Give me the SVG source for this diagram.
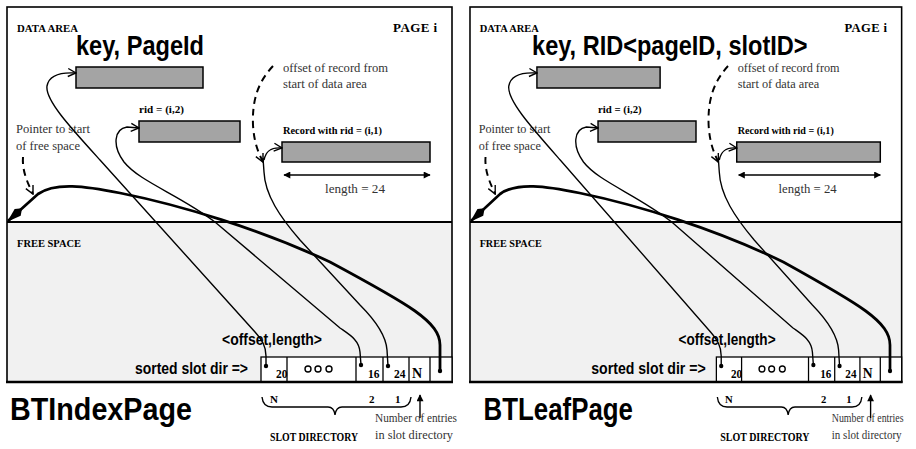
<svg xmlns="http://www.w3.org/2000/svg" width="916" height="449" viewBox="0 0 916 449">
<style>
.pg{fill:none;stroke:#000;stroke-width:1.6}
.fs{fill:#f1f1f1}
.rec{fill:#a4a4a4;stroke:#000;stroke-width:1.5}
.cell{fill:#fff;stroke:#000;stroke-width:1.3}
.sep{stroke:#000;stroke-width:1.3}
.conn{fill:none;stroke:#000;stroke-width:1.4}
.thick{fill:none;stroke:#000;stroke-width:2.8}
.dash{fill:none;stroke:#000;stroke-width:2;stroke-dasharray:7 5}
.sb{font-family:"Liberation Serif","Times New Roman",serif;font-weight:bold;fill:#000}
.sr{font-family:"Liberation Serif","Times New Roman",serif;fill:#333}
.hb{font-family:"Liberation Sans",Arial,sans-serif;font-weight:bold;fill:#000}
</style>
<defs>
<marker id="open" viewBox="0 0 10 10" refX="9" refY="5" markerWidth="10" markerHeight="10" markerUnits="userSpaceOnUse" orient="auto"><path d="M1,1 L9,5 L1,9" fill="none" stroke="#000" stroke-width="1.4"/></marker>
<marker id="tri" viewBox="0 0 10 10" refX="9" refY="5" markerWidth="9" markerHeight="7" markerUnits="userSpaceOnUse" orient="auto-start-reverse"><path d="M0,0 L10,5 L0,10 z" fill="#000"/></marker>
<marker id="big" viewBox="0 0 20 10" refX="19" refY="5" markerWidth="20" markerHeight="10" markerUnits="userSpaceOnUse" orient="auto"><path d="M0,5 L6,0.5 L20,5 L6,9.5 z" fill="#000"/></marker>
</defs>
<rect width="916" height="449" fill="#fff"/>

<!-- LEFT PANEL -->
<g id="left-panel">
  <g id="L-page">
    <rect class="fs" x="7" y="222" width="445" height="160"/>
    <rect class="pg" x="7" y="7" width="445" height="375"/>
    <line x1="7" y1="222" x2="452" y2="222" stroke="#000" stroke-width="2.2"/>
    <text class="sb" x="17" y="32" font-size="11" textLength="61" lengthAdjust="spacingAndGlyphs">DATA AREA</text>
    <text class="sb" x="393" y="32" font-size="13" textLength="44">PAGE i</text>
    <text class="sb" x="17" y="247" font-size="11" textLength="64" lengthAdjust="spacingAndGlyphs">FREE SPACE</text>
    <text class="hb" x="76" y="55" font-size="28" textLength="128" lengthAdjust="spacingAndGlyphs">key, PageId</text>
    <text class="sr" x="283" y="72" font-size="13" textLength="105" lengthAdjust="spacingAndGlyphs">offset of record from</text>
    <text class="sr" x="283" y="88" font-size="13" textLength="84" lengthAdjust="spacingAndGlyphs">start of data area</text>
    <text class="sr" x="16" y="133" font-size="13" textLength="74" lengthAdjust="spacingAndGlyphs">Pointer to start</text>
    <text class="sr" x="16" y="150" font-size="13" textLength="64" lengthAdjust="spacingAndGlyphs">of free space</text>
    <text class="sr" x="325" y="193" font-size="13" textLength="60" lengthAdjust="spacingAndGlyphs">length = 24</text>
    <text class="hb" x="222" y="345" font-size="16" textLength="100" lengthAdjust="spacingAndGlyphs">&lt;offset,length&gt;</text>
    <text class="hb" x="135" y="374" font-size="16" textLength="113" lengthAdjust="spacingAndGlyphs">sorted slot dir =&gt;</text>
    <text class="hb" x="10" y="420" font-size="32" textLength="182" lengthAdjust="spacingAndGlyphs">BTIndexPage</text>
  </g>
  <g id="L-rec-key">
    <rect class="rec" x="76" y="67" width="127" height="21"/>
  </g>
  <g id="L-rec-i2">
    <text class="sb" x="139" y="113" font-size="11" textLength="45" lengthAdjust="spacingAndGlyphs">rid = (i,2)</text>
    <rect class="rec" x="139" y="121" width="101" height="21"/>
  </g>
  <g id="L-rec-i1">
    <text class="sb" x="283" y="134" font-size="11" textLength="99" lengthAdjust="spacingAndGlyphs">Record with rid = (i,1)</text>
    <rect class="rec" x="282" y="142" width="148" height="20"/>
  </g>
  <g id="L-slotdir">
    <rect class="cell" x="261" y="357" width="191" height="25"/>
    <line class="sep" x1="287" y1="357" x2="287" y2="382"/>
    <line class="sep" x1="356" y1="357" x2="356" y2="382"/>
    <line class="sep" x1="383" y1="357" x2="383" y2="382"/>
    <line class="sep" x1="409" y1="357" x2="409" y2="382"/>
    <line class="sep" x1="430" y1="357" x2="430" y2="382"/>
    <line x1="6" y1="382" x2="453" y2="382" stroke="#000" stroke-width="2.6"/>
    <text class="sb" x="276" y="378" font-size="11.5" font-weight="normal">20</text>
    <circle cx="308" cy="369" r="3" fill="none" stroke="#000" stroke-width="1.4"/>
    <circle cx="318" cy="369" r="3" fill="none" stroke="#000" stroke-width="1.4"/>
    <circle cx="329" cy="369" r="3" fill="none" stroke="#000" stroke-width="1.4"/>
    <text class="sb" x="368" y="378" font-size="11.5" font-weight="normal">16</text>
    <text class="sb" x="394" y="378" font-size="11.5" font-weight="normal">24</text>
    <text class="sb" x="412" y="378" font-size="14" font-weight="normal">N</text>
    <circle cx="266" cy="366" r="2.2"/>
    <circle cx="361" cy="365" r="2.2"/>
    <circle cx="388" cy="366" r="2.2"/>
    <circle cx="440" cy="371" r="2.2"/>
  </g>
  <g id="L-brace">
    <path class="conn" d="M262 397 Q263 407 272 407 L328 407 Q334 407 335 415 Q336 407 342 407 L401 407 Q410 407 411 397" stroke-width="1.3"/>
    <text class="sb" x="270" y="403" font-size="11">N</text>
    <text class="sb" x="369" y="403" font-size="11">2</text>
    <text class="sb" x="395" y="403" font-size="11">1</text>
    <text class="sb" x="270" y="441" font-size="11.5" textLength="88" lengthAdjust="spacingAndGlyphs">SLOT DIRECTORY</text>
    <text class="sr" x="375" y="422" font-size="13" textLength="82" lengthAdjust="spacingAndGlyphs">Number of entries</text>
    <text class="sr" x="375" y="439" font-size="13" textLength="78" lengthAdjust="spacingAndGlyphs">in slot directory</text>
  </g>
  <g id="L-connectors">
    <path class="conn" marker-end="url(#open)" d="M266 366 L266 356 C266 346 262 340 255 332 L100 160 C70 127 45 100 47 86 C49 75 60 72 76 73"/>
    <path class="conn" marker-end="url(#open)" d="M361 365 L360 352 C359 340 350 335 340 328 L215 222 C180 195 140 182 124 162 C112 146 114 129 127 127 L139 128"/>
    <path class="conn" d="M388 366 L387 350 C386 335 375 320 360 305 L300 240 C280 217 265 195 264 172 L263 158"/>
    <path class="conn" marker-end="url(#open)" d="M264 160 C266 150 272 147 282 148"/>
    <path class="thick" marker-end="url(#big)" d="M440 371 L440 345 C440 322 410 305 330 262 C260 229 180 205 120 193 C85 186 55 182 38 194 L8 221"/>
    <path class="dash" marker-end="url(#open)" d="M273 66 C258 82 252 100 253 125 C254 142 258 152 263 162"/>
    <path class="dash" marker-end="url(#open)" d="M23 157 C22 170 27 182 33 194"/>
    <path class="conn" stroke-width="2" marker-start="url(#tri)" marker-end="url(#tri)" d="M284 175 L430 175"/>
    <path class="conn" stroke-width="1.3" marker-end="url(#tri)" d="M420 418 L420 395"/>
  </g>
</g>

<!-- RIGHT PANEL -->
<g id="right-panel" transform="matrix(0.97 0 0 1 463.2 0)">
  <g id="R-page">
    <rect class="fs" x="7" y="222" width="445" height="160"/>
    <rect class="pg" x="7" y="7" width="445" height="375"/>
    <line x1="7" y1="222" x2="452" y2="222" stroke="#000" stroke-width="2.2"/>
    <text class="sb" x="17" y="32" font-size="11" textLength="61" lengthAdjust="spacingAndGlyphs">DATA AREA</text>
    <text class="sb" x="393" y="32" font-size="13" textLength="44">PAGE i</text>
    <text class="sb" x="17" y="247" font-size="11" textLength="64" lengthAdjust="spacingAndGlyphs">FREE SPACE</text>
    <text class="hb" x="71" y="55" font-size="28" textLength="284" lengthAdjust="spacingAndGlyphs">key, RID&lt;pageID, slotID&gt;</text>
    <text class="sr" x="283" y="72" font-size="13" textLength="105" lengthAdjust="spacingAndGlyphs">offset of record from</text>
    <text class="sr" x="283" y="88" font-size="13" textLength="84" lengthAdjust="spacingAndGlyphs">start of data area</text>
    <text class="sr" x="16" y="133" font-size="13" textLength="74" lengthAdjust="spacingAndGlyphs">Pointer to start</text>
    <text class="sr" x="16" y="150" font-size="13" textLength="64" lengthAdjust="spacingAndGlyphs">of free space</text>
    <text class="sr" x="325" y="193" font-size="13" textLength="60" lengthAdjust="spacingAndGlyphs">length = 24</text>
    <text class="hb" x="222" y="345" font-size="16" textLength="100" lengthAdjust="spacingAndGlyphs">&lt;offset,length&gt;</text>
    <text class="hb" x="132" y="374" font-size="16" textLength="118" lengthAdjust="spacingAndGlyphs">sorted slot dir =&gt;</text>
    <text class="hb" x="21" y="420" font-size="32" textLength="154" lengthAdjust="spacingAndGlyphs">BTLeafPage</text>
  </g>
  <g id="R-rec-key">
    <rect class="rec" x="76" y="67" width="127" height="21"/>
  </g>
  <g id="R-rec-i2">
    <text class="sb" x="139" y="113" font-size="11" textLength="45" lengthAdjust="spacingAndGlyphs">rid = (i,2)</text>
    <rect class="rec" x="139" y="121" width="101" height="21"/>
  </g>
  <g id="R-rec-i1">
    <text class="sb" x="283" y="134" font-size="11" textLength="99" lengthAdjust="spacingAndGlyphs">Record with rid = (i,1)</text>
    <rect class="rec" x="282" y="142" width="148" height="20"/>
  </g>
  <g id="R-slotdir">
    <rect class="cell" x="261" y="357" width="191" height="25"/>
    <line class="sep" x1="287" y1="357" x2="287" y2="382"/>
    <line class="sep" x1="356" y1="357" x2="356" y2="382"/>
    <line class="sep" x1="383" y1="357" x2="383" y2="382"/>
    <line class="sep" x1="409" y1="357" x2="409" y2="382"/>
    <line class="sep" x1="430" y1="357" x2="430" y2="382"/>
    <line x1="6" y1="382" x2="453" y2="382" stroke="#000" stroke-width="2.6"/>
    <text class="sb" x="276" y="378" font-size="11.5" font-weight="normal">20</text>
    <circle cx="308" cy="369" r="3" fill="none" stroke="#000" stroke-width="1.4"/>
    <circle cx="318" cy="369" r="3" fill="none" stroke="#000" stroke-width="1.4"/>
    <circle cx="329" cy="369" r="3" fill="none" stroke="#000" stroke-width="1.4"/>
    <text class="sb" x="368" y="378" font-size="11.5" font-weight="normal">16</text>
    <text class="sb" x="394" y="378" font-size="11.5" font-weight="normal">24</text>
    <text class="sb" x="412" y="378" font-size="14" font-weight="normal">N</text>
    <circle cx="266" cy="366" r="2.2"/>
    <circle cx="361" cy="365" r="2.2"/>
    <circle cx="388" cy="366" r="2.2"/>
    <circle cx="440" cy="371" r="2.2"/>
  </g>
  <g id="R-brace">
    <path class="conn" d="M262 397 Q263 407 272 407 L328 407 Q334 407 335 415 Q336 407 342 407 L401 407 Q410 407 411 397" stroke-width="1.3"/>
    <text class="sb" x="270" y="403" font-size="11">N</text>
    <text class="sb" x="369" y="403" font-size="11">2</text>
    <text class="sb" x="395" y="403" font-size="11">1</text>
    <text class="sb" x="265" y="441" font-size="11.5" textLength="92" lengthAdjust="spacingAndGlyphs">SLOT DIRECTORY</text>
    <text class="sr" x="380" y="422" font-size="12" textLength="74" lengthAdjust="spacingAndGlyphs">Number of entries</text>
    <text class="sr" x="380" y="439" font-size="12" textLength="72" lengthAdjust="spacingAndGlyphs">in slot directory</text>
  </g>
  <g id="R-connectors">
    <path class="conn" marker-end="url(#open)" d="M266 366 L266 356 C266 346 262 340 255 332 L100 160 C70 127 45 100 47 86 C49 75 60 72 76 73"/>
    <path class="conn" marker-end="url(#open)" d="M361 365 L360 352 C359 340 350 335 340 328 L215 222 C180 195 140 182 124 162 C112 146 114 129 127 127 L139 128"/>
    <path class="conn" d="M388 366 L387 350 C386 335 375 320 360 305 L300 240 C280 217 265 195 264 172 L263 158"/>
    <path class="conn" marker-end="url(#open)" d="M264 160 C266 150 272 147 282 148"/>
    <path class="thick" marker-end="url(#big)" d="M440 371 L440 345 C440 322 410 305 330 262 C260 229 180 205 120 193 C85 186 55 182 38 194 L8 221"/>
    <path class="dash" marker-end="url(#open)" d="M273 66 C258 82 252 100 253 125 C254 142 258 152 263 162"/>
    <path class="dash" marker-end="url(#open)" d="M23 157 C22 170 27 182 33 194"/>
    <path class="conn" stroke-width="2" marker-start="url(#tri)" marker-end="url(#tri)" d="M284 175 L430 175"/>
    <path class="conn" stroke-width="1.3" marker-end="url(#tri)" d="M420 418 L420 395"/>
  </g>
</g>
</svg>
